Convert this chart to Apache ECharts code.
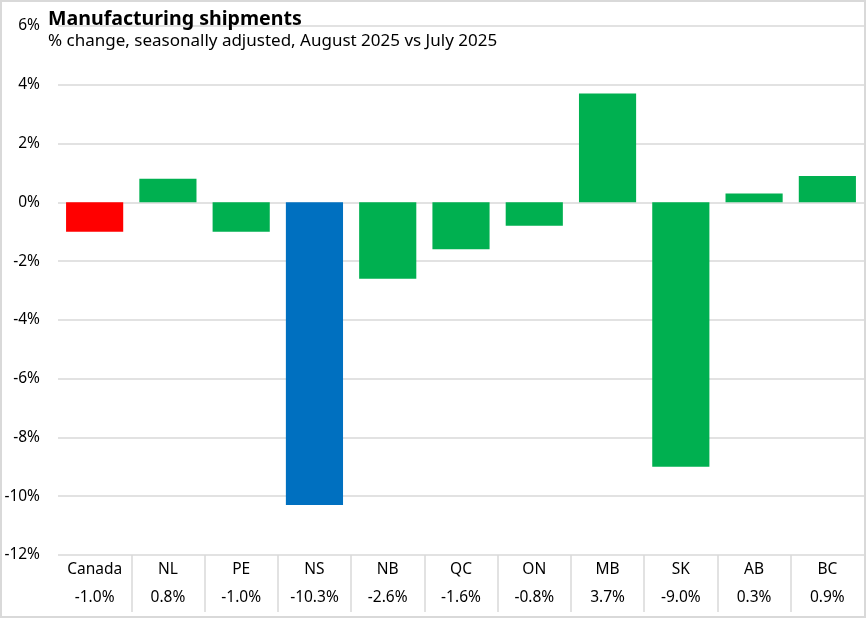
<!DOCTYPE html>
<html>
<head>
<meta charset="utf-8">
<script src="https://cdn.jsdelivr.net/npm/echarts@6/dist/echarts.min.js"></script>
<style>
html,body{margin:0;padding:0;background:#fff;}
#wrap{position:relative;width:866px;height:618px;}
#c{position:absolute;left:0;top:0;width:866px;height:618px;}
#frame{position:absolute;left:0;top:0;width:866px;height:618px;box-sizing:border-box;border:2px solid #d9d9d9;pointer-events:none;}
</style>
</head>
<body>
<div id="wrap"><div id="c"></div><div id="frame"></div></div>
<script>
var categories = ['Canada','NL','PE','NS','NB','QC','ON','MB','SK','AB','BC'];
var values = [-1.0, 0.8, -1.0, -10.3, -2.6, -1.6, -0.8, 3.7, -9.0, 0.3, 0.9];
var barColors = ['#FF0000','#00B050','#00B050','#0070C0','#00B050','#00B050','#00B050','#00B050','#00B050','#00B050','#00B050'];
var titleText = 'Manufacturing shipments';
var subtitleText = '% change, seasonally adjusted, August 2025 vs July 2025';

// category boundaries (used only for the table separators)
var boundaries = [];
for (var k = 0; k <= categories.length; k++) boundaries.push('b' + k);

var FONT = '"Noto Sans", sans-serif';
var chart = echarts.init(document.getElementById('c'), null, {renderer:'canvas'});
chart.setOption({
  animation:false,
  backgroundColor:'#fff',
  title:{
    text:titleText,
    subtext:subtitleText,
    left:43, top:4,
    itemGap:4,
    textStyle:{fontFamily:FONT, fontSize:19.6, fontWeight:'bold', color:'#000'},
    subtextStyle:{fontFamily:FONT, fontSize:17, color:'#000'}
  },
  grid:{left:58, right:2, top:26, bottom:63},
  xAxis:[{
    type:'category',
    data:categories,
    position:'bottom',
    axisLine:{show:false, onZero:false},
    axisTick:{show:false},
    axisLabel:{
      interval:0, margin:1,
      formatter:function(v, i){ return '{a|'+v+'}\n{b|'+values[i].toFixed(1)+'%}'; },
      rich:{
        a:{fontFamily:FONT, fontSize:15.5, color:'#000', lineHeight:28},
        b:{fontFamily:FONT, fontSize:15.5, color:'#000', lineHeight:28}
      }
    }
  },{
    type:'category',
    position:'bottom',
    boundaryGap:false,
    data:boundaries,
    axisLine:{show:false, onZero:false},
    splitLine:{show:false},
    axisLabel:{show:false},
    axisTick:{show:true, length:57, lineStyle:{color:'#d9d9d9', width:1.5},
      interval:function(i){ return i > 0 && i < categories.length; }}
  }],
  yAxis:{
    type:'value', min:-12, max:6, interval:2,
    axisLine:{show:false}, axisTick:{show:false},
    splitLine:{lineStyle:{color:'#d9d9d9', width:1.5}},
    axisLabel:{fontFamily:FONT, fontSize:15.5, color:'#000', margin:18,
      formatter:function(v){return v+'%';}}
  },
  series:[{
    type:'bar',
    xAxisIndex:0,
    data:values.map(function(v,i){return {value:v, itemStyle:{color:barColors[i]}};}),
    barCategoryGap:'22%'
  }]
});
</script>
</body>
</html>
